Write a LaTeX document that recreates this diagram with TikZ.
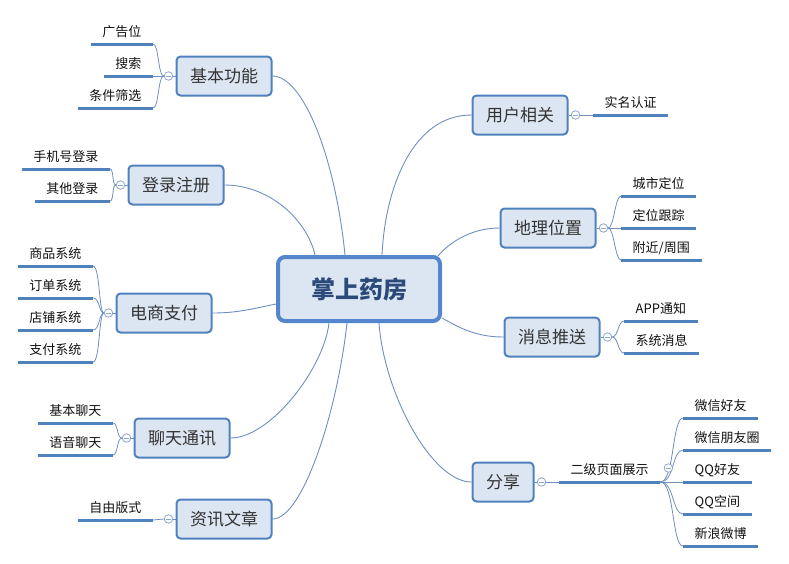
\documentclass[tikz,border=0pt]{standalone}
\usepackage{fontspec}
\setmainfont{Noto Sans CJK SC}
\definecolor{boxfill}{HTML}{DCE6F2}
\definecolor{boxdraw}{HTML}{4F81BD}
\definecolor{cendraw}{HTML}{5585CC}
\definecolor{centext}{HTML}{2B4A7A}
\definecolor{conn}{HTML}{6F8FC0}
\definecolor{uline}{HTML}{4F81BD}
\definecolor{circ}{HTML}{8BA6D0}
\definecolor{brtext}{HTML}{333333}
\definecolor{lftext}{HTML}{111111}
\pgfdeclarelayer{bg}
\pgfsetlayers{bg,main}
\tikzset{
  centralbox/.style={draw=cendraw, fill=boxfill, line width=4pt, rounded corners=7pt, minimum width=162pt, minimum height=64pt, inner sep=0pt, text=centext, font=\fontsize{24}{28}\selectfont\bfseries},
  branchbox/.style={draw=boxdraw, fill=boxfill, line width=2pt, rounded corners=4pt, minimum height=39pt, inner xsep=13.5pt, inner ysep=0pt, text=brtext, font=\fontsize{17}{20}\selectfont},
  leaftext/.style={inner xsep=11.5pt, inner ysep=5pt, text height=11pt, text depth=2pt, text=lftext, font=\fontsize{13}{15}\selectfont},
  leafline/.style={draw=uline, line width=3pt},
  conline/.style={draw=conn, line width=0.9pt},
  subline/.style={draw=conn, line width=0.8pt},
  collapsebtn/.style={circle, draw=circ, fill=white, line width=0.8pt, minimum size=8.5pt, inner sep=0pt,
    path picture={\draw[circ, line width=0.7pt] ([xshift=-2.4pt]path picture bounding box.center) -- ([xshift=2.4pt]path picture bounding box.center);}},
}
\begin{document}
\begin{tikzpicture}[x=1pt, y=-1pt]
\useasboundingbox (0,0) rectangle (789,563);
% central and branch nodes
\node[centralbox] (C) at (359,289) {掌上药房};
\node[branchbox] (K1) at (224,76) {基本功能};
\node[branchbox] (K2) at (176,185) {登录注册};
\node[branchbox] (K3) at (164,313) {电商支付};
\node[branchbox] (K4) at (182,438) {聊天通讯};
\node[branchbox] (K5) at (224,519) {资讯文章};
\node[branchbox] (R1) at (520,115) {用户相关};
\node[branchbox] (R2) at (548,228) {地理位置};
\node[branchbox] (R3) at (552,337) {消息推送};
\node[branchbox] (R4) at (503,482) {分享};
% collapse buttons
\foreach \b in {K1,K2,K3,K4,K5} \node[collapsebtn] (c\b) at ([xshift=-7pt]\b.west) {};
\foreach \b in {R1,R2,R3,R4} \node[collapsebtn] (c\b) at ([xshift=7pt]\b.east) {};
% leaves, left side
\node[leaftext, anchor=south east] (a1) at (153,44) {广告位};
\node[leaftext, anchor=south east] (a2) at (153,76) {搜索};
\node[leaftext, anchor=south east] (a3) at (153,108) {条件筛选};
\node[leaftext, anchor=south east] (b1) at (110,169) {手机号登录};
\node[leaftext, anchor=south east] (b2) at (110,201) {其他登录};
\node[leaftext, anchor=south east] (c1) at (93,266) {商品系统};
\node[leaftext, anchor=south east] (c2) at (93,298) {订单系统};
\node[leaftext, anchor=south east] (c3) at (93,330) {店铺系统};
\node[leaftext, anchor=south east] (c4) at (93,362) {支付系统};
\node[leaftext, anchor=south east] (d1) at (113,423) {基本聊天};
\node[leaftext, anchor=south east] (d2) at (113,455) {语音聊天};
\node[leaftext, anchor=south east] (e1) at (153,520) {自由版式};
% leaves, right side
\node[leaftext, anchor=south west] (f1) at (593,115) {实名认证};
\node[leaftext, anchor=south west] (g1) at (621,196) {城市定位};
\node[leaftext, anchor=south west] (g2) at (621,228) {定位跟踪};
\node[leaftext, anchor=south west] (g3) at (621,260) {附近/周围};
\node[leaftext, anchor=south west] (h1) at (624,321) {APP通知};
\node[leaftext, anchor=south west] (h2) at (624,353) {系统消息};
\node[leaftext, anchor=south west] (s1) at (559,482) {二级页面展示};
\node[leaftext, anchor=south west] (t1) at (683,418) {微信好友};
\node[leaftext, anchor=south west] (t2) at (683,450) {微信朋友圈};
\node[leaftext, anchor=south west] (t3) at (683,482) {QQ好友};
\node[leaftext, anchor=south west] (t4) at (683,514) {QQ空间};
\node[leaftext, anchor=south west] (t5) at (683,546) {新浪微博};
\node[collapsebtn] (cS) at ([xshift=8pt,yshift=14pt]s1.south east) {};
% underlines
\foreach \n in {a1,a2,a3,b1,b2,c1,c2,c3,c4,d1,d2,e1,f1,g1,g2,g3,h1,h2,s1,t1,t2,t3,t4,t5}
  \draw[leafline] (\n.south west) -- (\n.south east);
% attachment points on the central node
\coordinate (pK1) at ([xshift=-14pt]C.north);
\coordinate (pK2) at ([xshift=-44pt]C.north);
\coordinate (pR1) at ([xshift=23pt]C.north);
\coordinate (pR2) at ([xshift=-4pt,yshift=-1pt]C.north east);
\coordinate (pK3) at ([yshift=-15pt]C.west);
\coordinate (pR3) at ([yshift=-29pt]C.east);
\coordinate (pK4) at ([xshift=-30pt]C.south);
\coordinate (pK5) at ([xshift=-12pt]C.south);
\coordinate (pR4) at ([xshift=20pt]C.south);
\begin{pgfonlayer}{bg}
% main connectors
\draw[conline] (K1.east) .. controls +(30,0) and +(-10,-100) .. (pK1);
\draw[conline] (K2.east) .. controls +(45,0) and +(-8,-35) .. (pK2);
\draw[conline] (K3.east) .. controls +(25,0) and +(-25,5) .. (pK3);
\draw[conline] (K4.east) .. controls +(40,0) and +(-5,45) .. (pK4);
\draw[conline] (K5.east) .. controls +(30,0) and +(-10,90) .. (pK5);
\draw[conline] (R1.west) .. controls +(-60,0) and +(3,-65) .. (pR1);
\draw[conline] (R2.west) .. controls +(-30,0) and +(10,-12) .. (pR2);
\draw[conline] (R3.west) .. controls +(-30,0) and +(15,8) .. (pR3);
\draw[conline] (R4.west) .. controls +(-40,0) and +(5,70) .. (pR4);
% box to button
\foreach \b in {K1,K2,K3,K4,K5} \draw[subline] (\b.west) -- (c\b.east);
\foreach \b in {R1,R2,R3,R4} \draw[subline] (\b.east) -- (c\b.west);
% button to leaves
\foreach \n in {a1,a2,a3} \draw[subline] (cK1.west) .. controls +(-6,0) and +(6,0) .. (\n.south east);
\foreach \n in {b1,b2} \draw[subline] (cK2.west) .. controls +(-4,0) and +(4,0) .. (\n.south east);
\foreach \n in {c1,c2,c3,c4} \draw[subline] (cK3.west) .. controls +(-5,0) and +(7,0) .. (\n.south east);
\foreach \n in {d1,d2} \draw[subline] (cK4.west) .. controls +(-5,0) and +(5,0) .. (\n.south east);
\draw[subline] (cK5.west) -- (e1.south east);
\draw[subline] (cR1.east) -- (f1.south west);
\foreach \n in {g1,g2,g3} \draw[subline] (cR2.east) .. controls +(6,0) and +(-6,0) .. (\n.south west);
\foreach \n in {h1,h2} \draw[subline] (cR3.east) .. controls +(6,0) and +(-6,0) .. (\n.south west);
\draw[subline] (cR4.east) -- (s1.south west);
\foreach \n in {t1,t2,t3,t4,t5} \draw[subline] (s1.south east) .. controls +(14,0) and +(-11,0) .. (\n.south west);
\end{pgfonlayer}
\end{tikzpicture}
\end{document}
